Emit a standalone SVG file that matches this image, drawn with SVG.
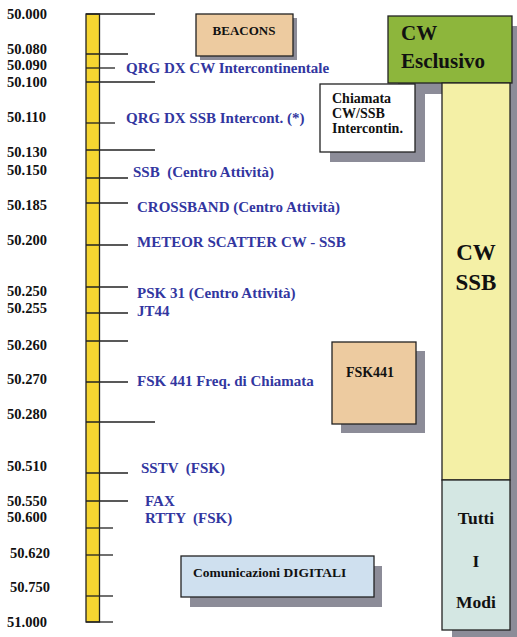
<svg xmlns="http://www.w3.org/2000/svg" width="517" height="637" viewBox="0 0 517 637">
<style>
text{font-family:"Liberation Serif","Times New Roman",serif;font-weight:bold}
.f{font-size:14.5px;fill:#111}
.b{font-size:15px;fill:#3236a0}
.k{fill:#111}
.tick{stroke:#222;stroke-width:1.3}
.sh{fill:#8c8c98}
.bx{stroke:#222;stroke-width:1.3}
</style>
<rect width="517" height="637" fill="#ffffff"/>

<g id="scale">
<rect x="86" y="14" width="13.5" height="608" fill="#f6d531" stroke="#222" stroke-width="1.3"/>
</g>

<g id="connectors">
<line class="tick" x1="86" y1="14" x2="155" y2="14"/>
<line class="tick" x1="86" y1="54" x2="128" y2="54"/>
<line class="tick" x1="86" y1="68" x2="115" y2="68"/>
<line class="tick" x1="86" y1="82" x2="155" y2="82"/>
<line class="tick" x1="86" y1="123" x2="115" y2="123"/>
<line class="tick" x1="86" y1="150" x2="155" y2="150"/>
<line class="tick" x1="86" y1="178" x2="128" y2="178"/>
<line class="tick" x1="86" y1="203" x2="128" y2="203"/>
<line class="tick" x1="86" y1="245" x2="128" y2="245"/>
<line class="tick" x1="86" y1="287" x2="128" y2="287"/>
<line class="tick" x1="86" y1="313" x2="128" y2="313"/>
<line class="tick" x1="86" y1="341" x2="128" y2="341"/>
<line class="tick" x1="86" y1="382" x2="128" y2="382"/>
<line class="tick" x1="86" y1="422" x2="155" y2="422"/>
<line class="tick" x1="86" y1="473" x2="128" y2="473"/>
<line class="tick" x1="86" y1="501" x2="128" y2="501"/>
<line class="tick" x1="86" y1="528" x2="113" y2="528"/>
<line class="tick" x1="86" y1="555" x2="113" y2="555"/>
<line class="tick" x1="86" y1="596" x2="113" y2="596"/>
<line class="tick" x1="86" y1="622" x2="113" y2="622"/>
</g>

<g id="freq-labels">
<text class="f" x="7" y="19">50.000</text>
<text class="f" x="7" y="54">50.080</text>
<text class="f" x="7" y="70">50.090</text>
<text class="f" x="7" y="87">50.100</text>
<text class="f" x="7" y="122">50.110</text>
<text class="f" x="7" y="157">50.130</text>
<text class="f" x="7" y="175">50.150</text>
<text class="f" x="7" y="210">50.185</text>
<text class="f" x="7" y="245">50.200</text>
<text class="f" x="7" y="296">50.250</text>
<text class="f" x="7" y="313">50.255</text>
<text class="f" x="7" y="350">50.260</text>
<text class="f" x="7" y="384">50.270</text>
<text class="f" x="7" y="419">50.280</text>
<text class="f" x="7" y="471">50.510</text>
<text class="f" x="7" y="506">50.550</text>
<text class="f" x="7" y="522">50.600</text>
<text class="f" x="10" y="558">50.620</text>
<text class="f" x="10" y="592">50.750</text>
<text class="f" x="7" y="627">51.000</text>
</g>

<g id="band-labels">
<text class="b" x="126" y="73">QRG DX CW Intercontinentale</text>
<text class="b" x="126" y="123">QRG DX SSB Intercont. (*)</text>
<text class="b" x="133" y="177" xml:space="preserve">SSB  (Centro Attività)</text>
<text class="b" x="137" y="212">CROSSBAND (Centro Attività)</text>
<text class="b" x="137" y="247">METEOR SCATTER CW - SSB</text>
<text class="b" x="137" y="298">PSK 31 (Centro Attività)</text>
<text class="b" x="137" y="316">JT44</text>
<text class="b" x="137" y="386">FSK 441 Freq. di Chiamata</text>
<text class="b" x="141" y="473" xml:space="preserve">SSTV  (FSK)</text>
<text class="b" x="145" y="506">FAX</text>
<text class="b" x="145" y="523" xml:space="preserve">RTTY  (FSK)</text>
</g>

<g id="beacons">
<rect class="sh" x="200" y="18" width="97" height="42"/>
<rect class="bx" x="196" y="14" width="97" height="42" fill="#edcba0"/>
<text class="k" x="244" y="35" font-size="13" text-anchor="middle">BEACONS</text>
</g>

<g id="cw-esclusivo">
<rect class="sh" x="398" y="26" width="124" height="68"/>
<rect class="bx" x="388" y="16" width="124" height="67" fill="#8db63c"/>
<text class="k" x="401" y="40" font-size="21">CW</text>
<text class="k" x="401" y="68" font-size="21">Esclusivo</text>
</g>

<g id="column-shadow">
<rect class="sh" x="452" y="93" width="70" height="550"/>
</g>

<g id="cw-ssb">
<rect class="bx" x="442" y="83" width="68" height="397" fill="#f4f0a6"/>
<text class="k" x="476" y="260" font-size="23" text-anchor="middle">CW</text>
<text class="k" x="476" y="290" font-size="23" text-anchor="middle">SSB</text>
</g>

<g id="tutti-modi">
<rect class="bx" x="442" y="480" width="68" height="150" fill="#d4e7e3"/>
<text class="k" x="476" y="524" font-size="17.5" text-anchor="middle">Tutti</text>
<text class="k" x="476" y="567" font-size="17.5" text-anchor="middle">I</text>
<text class="k" x="476" y="608" font-size="17.5" text-anchor="middle">Modi</text>
</g>

<g id="chiamata">
<rect class="sh" x="330" y="94" width="95" height="68"/>
<rect class="bx" x="320" y="84" width="95" height="68" fill="#ffffff"/>
<text class="k" x="332" y="103" font-size="14">Chiamata</text>
<text class="k" x="332" y="118" font-size="14">CW/SSB</text>
<text class="k" x="332" y="133" font-size="14">Intercontin.</text>
</g>

<g id="fsk441">
<rect class="sh" x="341" y="351" width="84" height="82"/>
<rect class="bx" x="332" y="342" width="84" height="82" fill="#edcba0"/>
<text class="k" x="370" y="377" font-size="14" text-anchor="middle">FSK441</text>
</g>

<g id="digitali">
<rect class="sh" x="190" y="566" width="192" height="41"/>
<rect class="bx" x="181" y="556" width="193" height="41" fill="#cfe0ef"/>
<text class="k" x="193" y="577" font-size="13.5">Comunicazioni DIGITALI</text>
</g>
</svg>
